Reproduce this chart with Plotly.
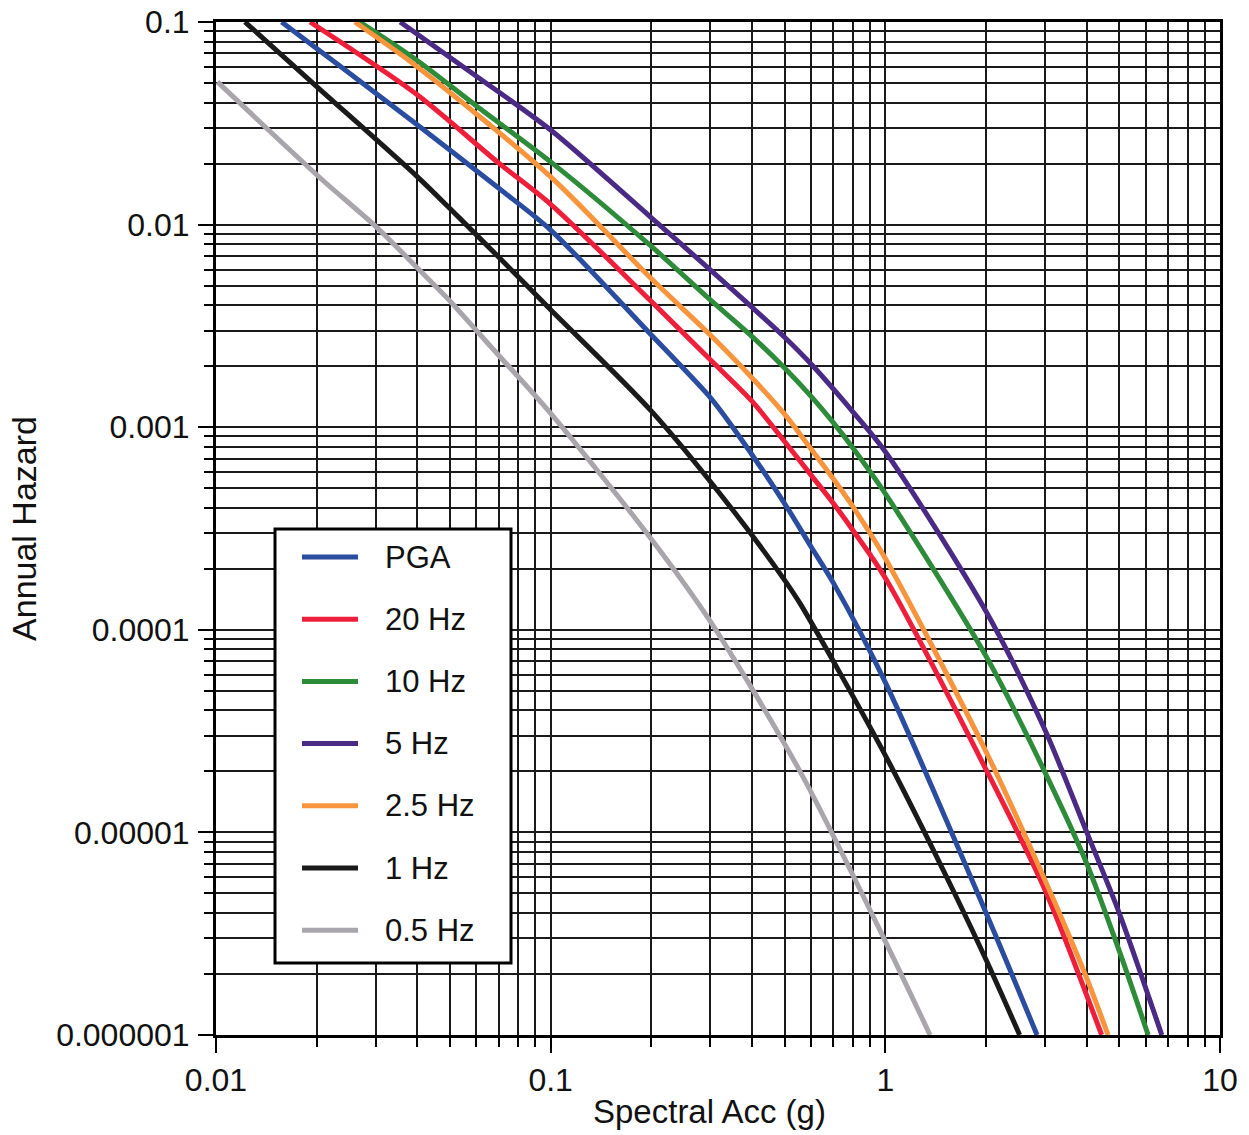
import plotly.graph_objects as go

# ---- data (Spectral Acc in g, Annual Hazard) ----
pga_x = [0.0157, 0.025, 0.04, 0.07, 0.1, 0.2, 0.3, 0.35, 0.5, 0.6, 0.7, 1.0, 2.0, 2.84]
pga_y = [0.1, 0.056, 0.031, 0.0151, 0.0094, 0.00285, 0.0014, 0.001, 0.00042, 0.000257, 0.00017, 5.5e-5, 4.0e-6, 1e-6]

hz20_x = [0.0191, 0.04, 0.07, 0.1, 0.2, 0.3, 0.4, 0.5, 0.6, 0.7, 0.8, 1.0, 2.0, 3.0, 4.43]
hz20_y = [0.1, 0.0436, 0.0201, 0.0126, 0.00417, 0.00215, 0.00134, 0.00085, 0.00058, 0.00042, 0.00031, 0.00018, 2.04e-5, 5.2e-6, 1e-6]

hz10_x = [0.0269, 0.04, 0.06, 0.1, 0.2, 0.3, 0.4, 0.5, 0.6, 0.7, 0.8, 1.0, 2.0, 3.0, 4.0, 5.0, 6.1]
hz10_y = [0.1, 0.0644, 0.0385, 0.0204, 0.0078, 0.00425, 0.0028, 0.00196, 0.00142, 0.00105, 0.00079, 0.00047, 7.4e-5, 1.98e-5, 7.0e-6, 2.6e-6, 1e-6]

hz5_x = [0.0355, 0.06, 0.1, 0.2, 0.3, 0.4, 0.5, 0.6, 0.8, 1.0, 2.0, 3.0, 4.0, 5.0, 6.7]
hz5_y = [0.1, 0.054, 0.0293, 0.0108, 0.00597, 0.0039, 0.00278, 0.00205, 0.00119, 0.000757, 0.000123, 3.2e-5, 1e-5, 4e-6, 1e-6]

hz25_x = [0.026, 0.04, 0.1, 0.2, 0.3, 0.4, 0.5, 0.6, 0.7, 0.8, 1.0, 2.0, 3.0, 4.0, 4.63]
hz25_y = [0.1, 0.06, 0.0172, 0.0054, 0.00285, 0.00175, 0.00116, 0.00078, 0.000555, 0.000405, 0.000225, 2.5e-5, 5.8e-6, 1.9e-6, 1e-6]

hz1_x = [0.0122, 0.02, 0.04, 0.05, 0.07, 0.1, 0.2, 0.35, 0.5, 0.556, 1.0, 1.63, 2.0, 2.52]
hz1_y = [0.1, 0.048, 0.0172, 0.012, 0.0069, 0.0038, 0.0012, 0.00039, 0.000176, 0.000135, 2.4e-5, 4.8e-6, 2.35e-6, 1e-6]

hz05_x = [0.0101, 0.0208, 0.03, 0.04, 0.05, 0.06, 0.07, 0.1, 0.2, 0.3, 0.556, 1.0, 1.36]
hz05_y = [0.0506, 0.0166, 0.0098, 0.0061, 0.0042, 0.003, 0.00226, 0.00117, 0.00028, 0.00011, 2.0e-5, 2.9e-6, 1e-6]

names = ["PGA", "20 Hz", "10 Hz", "5 Hz", "2.5 Hz", "1 Hz", "0.5 Hz"]
xs = [pga_x, hz20_x, hz10_x, hz5_x, hz25_x, hz1_x, hz05_x]
ys = [pga_y, hz20_y, hz10_y, hz5_y, hz25_y, hz1_y, hz05_y]
colors = ["#2b4d9f", "#ee1f3b", "#2e8b3a", "#4a2a85", "#f7943c", "#1a1a1a", "#a9a6ab"]

x_tickvals = [0.01, 0.1, 1, 10]
x_ticktext = ["0.01", "0.1", "1", "10"]
y_tickvals = [0.1, 0.01, 0.001, 0.0001, 0.00001, 0.000001]
y_ticktext = ["0.1", "0.01", "0.001", "0.0001", "0.00001", "0.000001"]

x_minor = [m * d for d in [0.01, 0.1, 1] for m in range(2, 10)]
y_minor = [m * d for d in [1e-6, 1e-5, 1e-4, 1e-3, 1e-2] for m in range(2, 10)]

GRID = "#1a1a1a"
FONT = "Liberation Sans, Arial, Helvetica, sans-serif"

fig = go.Figure()
for n, x, y, c in zip(names, xs, ys, colors):
    fig.add_trace(go.Scatter(x=x, y=y, mode="lines", name=n,
                             line=dict(color=c, width=5, shape="spline", smoothing=0.8),
                             showlegend=False))

axis_common = dict(
    type="log", showgrid=True, gridcolor=GRID, gridwidth=1.5,
    ticks="outside", ticklen=15, tickwidth=2, tickcolor="black",
    showline=True, linewidth=3, linecolor="black", mirror=True,
    tickfont=dict(family=FONT, size=32, color="#111"),
    tickmode="array", automargin=False,
)

fig.update_xaxes(
    range=[-2, 1], tickvals=x_tickvals, ticktext=x_ticktext,
    minor=dict(tickmode="array", tickvals=x_minor, ticks="outside", ticklen=9,
               tickwidth=1.5, tickcolor="black", showgrid=True,
               gridcolor=GRID, gridwidth=1.5),
    **axis_common)

fig.update_yaxes(
    range=[-6, -1], tickvals=y_tickvals, ticktext=y_ticktext,
    minor=dict(tickmode="array", tickvals=y_minor, ticks="outside", ticklen=9,
               tickwidth=1.5, tickcolor="black", showgrid=True,
               gridcolor=GRID, gridwidth=1.5),
    title=dict(text="Annual Hazard",
               font=dict(family="Liberation Sans Narrow, Arial Narrow, Liberation Sans, sans-serif",
                         size=34, color="#111"),
               standoff=10),
    ticklabelstandoff=2,
    **axis_common)

# ---- legend drawn as a framed box inside the plot area ----
def fx(px):
    return (px - 216) / 1004.0

def fy(py):
    return (1035 - py) / 1013.0

shapes = [dict(type="rect", xref="x domain", yref="y domain",
               x0=fx(275), x1=fx(511), y0=fy(963), y1=fy(529),
               line=dict(color="black", width=3), fillcolor="white", layer="above")]
annotations = []
for i, (n, c) in enumerate(zip(names, colors)):
    yc = 557 + 62.2 * i
    shapes.append(dict(type="line", xref="x domain", yref="y domain",
                       x0=fx(302), x1=fx(358), y0=fy(yc), y1=fy(yc),
                       line=dict(color=c, width=5), layer="above"))
    annotations.append(dict(text=n, xref="x domain", yref="y domain",
                            x=fx(383), y=fy(yc), xanchor="left", yanchor="middle",
                            showarrow=False,
                            font=dict(family=FONT, size=31, color="#111")))

# x-axis title placed as in the reference (slightly left of centre)
annotations.append(dict(text="Spectral Acc (g)", xref="x domain", yref="y domain",
                        x=fx(709), y=fy(1111),
                        xanchor="center", yanchor="middle", showarrow=False,
                        font=dict(family=FONT, size=33, color="#111")))

fig.update_layout(
    width=1249, height=1135,
    margin=dict(l=216, r=29, t=22, b=100),
    paper_bgcolor="white", plot_bgcolor="white",
    showlegend=False,
    shapes=shapes, annotations=annotations,
    font=dict(family=FONT, color="#111"),
)

fig.write_html("out.html")
